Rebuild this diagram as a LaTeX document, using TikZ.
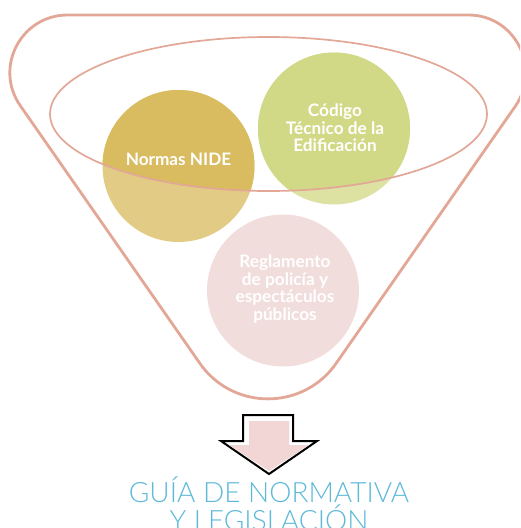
\documentclass[tikz,border=0pt]{standalone}
\usepackage{fontspec}
\setmainfont{Lato}
\IfFontExistsTF{Lato Light}{\newfontfamily\titlefont{Lato Light}}{\newfontfamily\titlefont{Lato}}
\newfontfamily\labelfont{Lato}
\definecolor{funnel}{HTML}{E2A797}
\definecolor{golddark}{HTML}{D8BC5F}
\definecolor{goldlight}{HTML}{E2CB84}
\definecolor{greendark}{HTML}{D2D986}
\definecolor{greenlight}{HTML}{DDE1A2}
\definecolor{pinkc}{HTML}{F2DDDD}
\definecolor{arrowpink}{HTML}{F2D6D6}
\definecolor{titleblue}{HTML}{5DB9D9}
\tikzset{
  topic/.style={circle, minimum size=152pt, inner sep=0pt, text=white,
    font=\labelfont\bfseries\fontsize{17.2}{17.6}\selectfont, align=center},
  outline/.style={draw=funnel, line width=2.8pt},
  rim/.style={draw=funnel, line width=1.7pt},
}
\begin{document}
\begin{tikzpicture}[x=1pt,y=-1pt]
\useasboundingbox (0,0) rectangle (520,528);
\clip (0,0) rectangle (520,528);
% circles (light tone)
\node[topic, fill=goldlight] (nide) at (178.5,166) {};
\node[topic, fill=greenlight] (cte) at (334,128.5) {};
\node[topic, fill=pinkc] (rpe) at (283,290.5) {};
% darker tone inside the ellipse
\begin{scope}
  \clip (268.5,114) ellipse [x radius=218.5, y radius=77];
  \fill[golddark] (nide.center) circle [radius=76];
  \fill[greendark] (cte.center) circle [radius=76];
\end{scope}
% labels
\node[topic] at (178.5,159) {Normas NIDE};
\node[topic] at (335,128) {Código\\Técnico de la\\Edificación};
\node[topic] at (285,289) {Reglamento\\de policía y\\espectáculos\\públicos};
% ellipse
\draw[rim] (268.5,114) ellipse [x radius=218.5, y radius=77];
% funnel
\draw[outline] (67.6,15) -- (468.4,15)
  .. controls (515,15) and (541.4,67.5) .. (515.7,105.7)
  -- (336.1,363.4)
  .. controls (303.1,410.7) and (232.9,410.7) .. (199.9,363.4)
  -- (20.3,105.7)
  .. controls (-6.4,67.5) and (21,15) .. cycle;
% block arrow
\draw[black, line width=2pt, fill=white, line join=miter]
  (243,415) -- (293,415) -- (293,441) -- (317,441) -- (269,474)
  -- (221,441) -- (243,441) -- cycle;
\fill[arrowpink] (249,421) -- (289,421) -- (289,445) -- (309,445) -- (269,471)
  -- (229,445) -- (249,445) -- cycle;
% title
\node[text=titleblue, font=\titlefont\fontsize{28}{28}\selectfont, align=center,
  anchor=north, inner sep=0pt] (title) at (269,477) {GUÍA DE NORMATIVA\\Y LEGISLACIÓN};
\end{tikzpicture}
\end{document}
